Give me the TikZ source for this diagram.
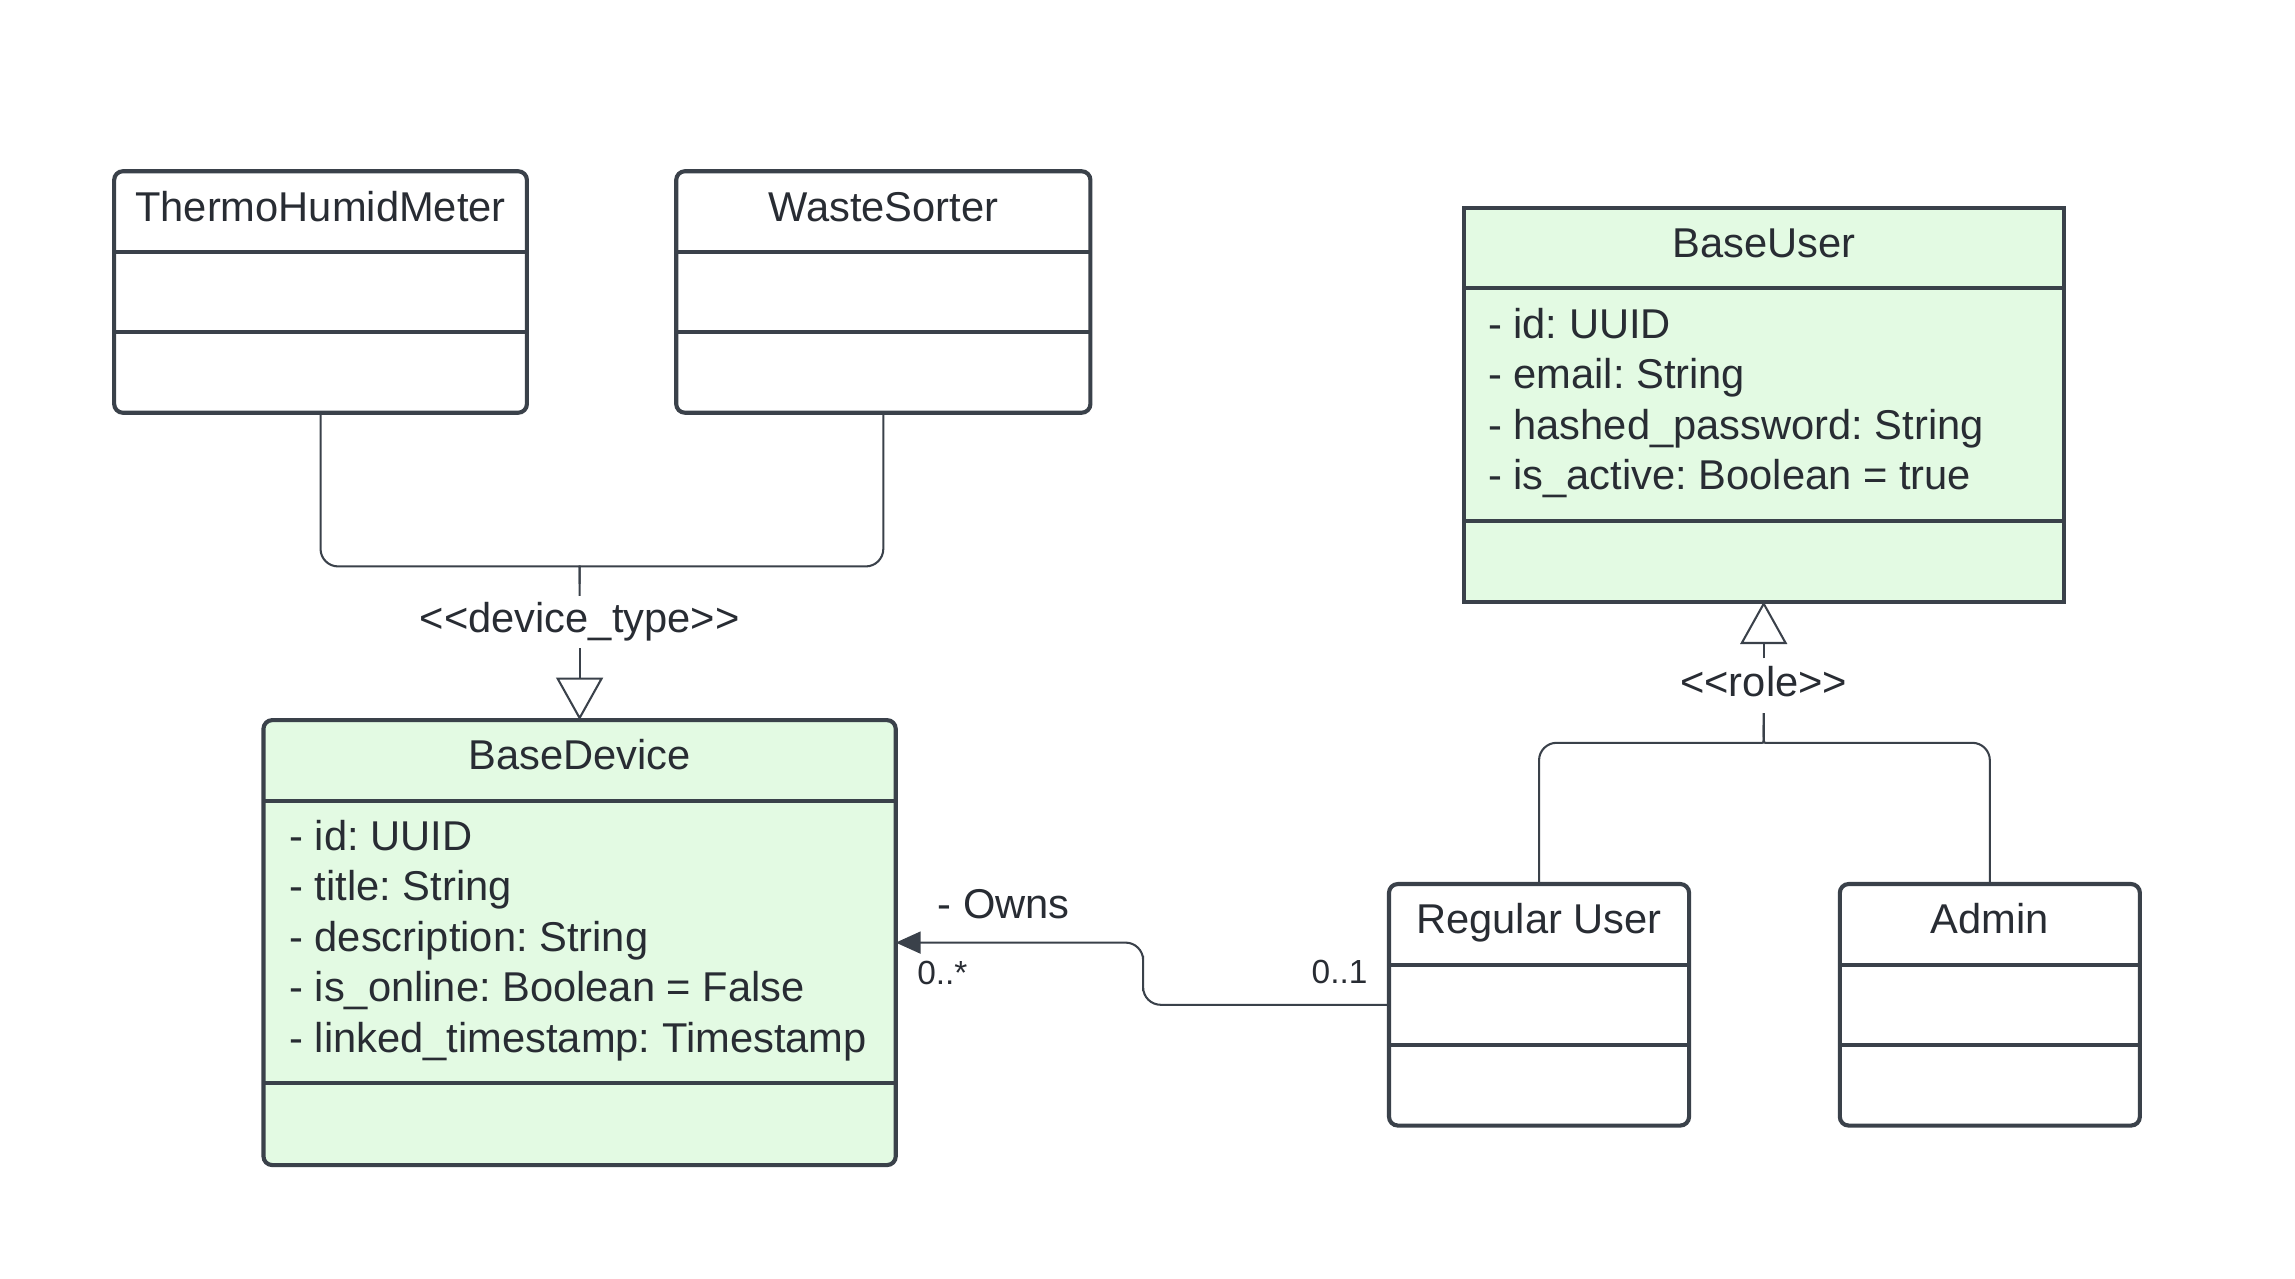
\documentclass[tikz,border=0pt]{standalone}
\usepackage{fontspec}
\setmainfont{Liberation Sans}
\usetikzlibrary{calc, arrows.meta}
\definecolor{umlline}{HTML}{3A414A}
\definecolor{umlfill}{HTML}{E3FAE3}
\definecolor{umltext}{HTML}{282C33}
\tikzset{
    classbox/.style={draw=umlline, line width=0.8pt, rounded corners=0.06cm, outer sep=0pt, inner sep=0pt},
    divider/.style={draw=umlline, line width=0.8pt},
    conn/.style={draw=umlline, line width=0.4pt},
    txt/.style={text=umltext, inner sep=0pt, font=\fontsize{8.1}{9.7}\selectfont},
    smalltxt/.style={text=umltext, inner sep=0pt, font=\fontsize{6.5}{7.8}\selectfont},
    gen/.style={-{Triangle[open, length=0.29cm, width=0.32cm, fill=white]}},
    owns/.style={-{Triangle[length=0.17cm, width=0.15cm]}},
}
\newcommand\stereo[1]{<\kern0pt<#1>\kern0pt>}
\frenchspacing

\begin{document}
\begin{tikzpicture}
    \newcommand\posThermo{2.19}
    \newcommand\posWaste{6.035}
    \newcommand\posDev{3.96}
    \newcommand\posUser{12.05}
    \newcommand\posReg{10.515}
    \newcommand\posAdmin{13.595}

    \useasboundingbox (0,0) rectangle (15.68,-8.738);

    % device types
    \node[classbox, minimum width=2.82cm, minimum height=1.65cm] (thermo) at (\posThermo, -1.995){};
    \draw[divider] ($(thermo.north west)+(0,-0.55)$) -- ($(thermo.north east)+(0,-0.55)$);
    \draw[divider] ($(thermo.south west)+(0,0.55)$) -- ($(thermo.south east)+(0,0.55)$);
    \node[txt, anchor=base] (thermoName) at ($(thermo.north)+(0,-0.34)$){ThermoHumidMeter};

    \node[classbox, minimum width=2.83cm, minimum height=1.65cm] (waste) at (\posWaste, -1.995){};
    \draw[divider] ($(waste.north west)+(0,-0.55)$) -- ($(waste.north east)+(0,-0.55)$);
    \draw[divider] ($(waste.south west)+(0,0.55)$) -- ($(waste.south east)+(0,0.55)$);
    \node[txt, anchor=base] (wasteName) at ($(waste.north)+(0,-0.34)$){WasteSorter};

    % base device
    \node[classbox, fill=umlfill, minimum width=4.32cm, minimum height=3.04cm] (basedevice) at (\posDev, -6.44){};
    \draw[divider] ($(basedevice.north west)+(0,-0.55)$) -- ($(basedevice.north east)+(0,-0.55)$);
    \draw[divider] ($(basedevice.south west)+(0,0.56)$) -- ($(basedevice.south east)+(0,0.56)$);
    \node[txt, anchor=base] (devName) at ($(basedevice.north)+(0,-0.34)$){BaseDevice};
    \node[txt, anchor=base west] (attD1) at (1.97, -5.81){- id: UUID};
    \node[txt, anchor=base west] (attD2) at (1.97, -6.155){- title: String};
    \node[txt, anchor=base west] (attD3) at (1.97, -6.50){- description: String};
    \node[txt, anchor=base west] (attD4) at (1.97, -6.845){- is\_online: Boolean = False};
    \node[txt, anchor=base west] (attD5) at (1.97, -7.19){- linked\_timestamp: Timestamp};

    % base user
    \node[classbox, sharp corners, fill=umlfill, minimum width=4.10cm, minimum height=2.69cm] (baseuser) at (\posUser, -2.765){};
    \draw[divider] ($(baseuser.north west)+(0,-0.55)$) -- ($(baseuser.north east)+(0,-0.55)$);
    \draw[divider] ($(baseuser.south west)+(0,0.55)$) -- ($(baseuser.south east)+(0,0.55)$);
    \node[txt, anchor=base] (userName) at ($(baseuser.north)+(0,-0.34)$){BaseUser};
    \node[txt, anchor=base west] (attU1) at (10.16, -2.31){- id: UUID};
    \node[txt, anchor=base west] (attU2) at (10.16, -2.655){- email: String};
    \node[txt, anchor=base west] (attU3) at (10.16, -3.00){- hashed\_password: String};
    \node[txt, anchor=base west] (attU4) at (10.16, -3.345){- is\_active: Boolean = true};

    % roles
    \node[classbox, minimum width=2.05cm, minimum height=1.65cm] (regular) at (\posReg, -6.865){};
    \draw[divider] ($(regular.north west)+(0,-0.55)$) -- ($(regular.north east)+(0,-0.55)$);
    \draw[divider] ($(regular.south west)+(0,0.55)$) -- ($(regular.south east)+(0,0.55)$);
    \node[txt, anchor=base] (regName) at ($(regular.north)+(0,-0.34)$){Regular User};

    \node[classbox, minimum width=2.05cm, minimum height=1.65cm] (admin) at (\posAdmin, -6.865){};
    \draw[divider] ($(admin.north west)+(0,-0.55)$) -- ($(admin.north east)+(0,-0.55)$);
    \draw[divider] ($(admin.south west)+(0,0.55)$) -- ($(admin.south east)+(0,0.55)$);
    \node[txt, anchor=base] (adminName) at ($(admin.north)+(0,-0.34)$){Admin};

    % generalisation: devices
    \node[txt, inner sep=0.04cm] (devtype) at (\posDev, -4.25){\stereo{device\_type}};
    \coordinate (devjoin) at (\posDev, -3.87);
    \draw[conn, rounded corners=0.12cm] (thermo.south) |- ([xshift=-0.12cm]devjoin) [sharp corners] .. controls (devjoin) .. ([yshift=-0.12cm]devjoin) -- (devtype.north);
    \draw[conn, rounded corners=0.12cm] (waste.south) |- ([xshift=0.12cm]devjoin) [sharp corners] .. controls (devjoin) .. ([yshift=-0.12cm]devjoin);
    \draw[conn, gen] (devtype.south) -- (basedevice.north);

    % generalisation: users
    \node[txt, inner sep=0.05cm] (role) at (\posUser, -4.66){\stereo{role}};
    \coordinate (rolejoin) at (\posUser, -5.075);
    \draw[conn, rounded corners=0.12cm] (regular.north) |- ([xshift=-0.13cm]rolejoin) [sharp corners] .. controls (rolejoin) .. ([yshift=0.12cm]rolejoin) -- ([yshift=-0.05cm]role.south);
    \draw[conn, rounded corners=0.12cm] (admin.north) |- ([xshift=0.13cm]rolejoin) [sharp corners] .. controls (rolejoin) .. ([yshift=0.12cm]rolejoin);
    \draw[conn, gen] (role.north) -- (baseuser.south);

    % association
    \coordinate (ownsbend) at (7.81, -6.65);
    \draw[conn, owns, rounded corners=0.12cm] (regular.west) -| (ownsbend) |- (basedevice.east);
    \node[txt, anchor=west] (ownsLab) at (6.40, -6.18){- Owns};
    \node[smalltxt, anchor=west] (multDev) at (6.26, -6.65){0..*};
    \node[smalltxt, anchor=east] (multUser) at (9.35, -6.64){0..1};
\end{tikzpicture}
\end{document}
